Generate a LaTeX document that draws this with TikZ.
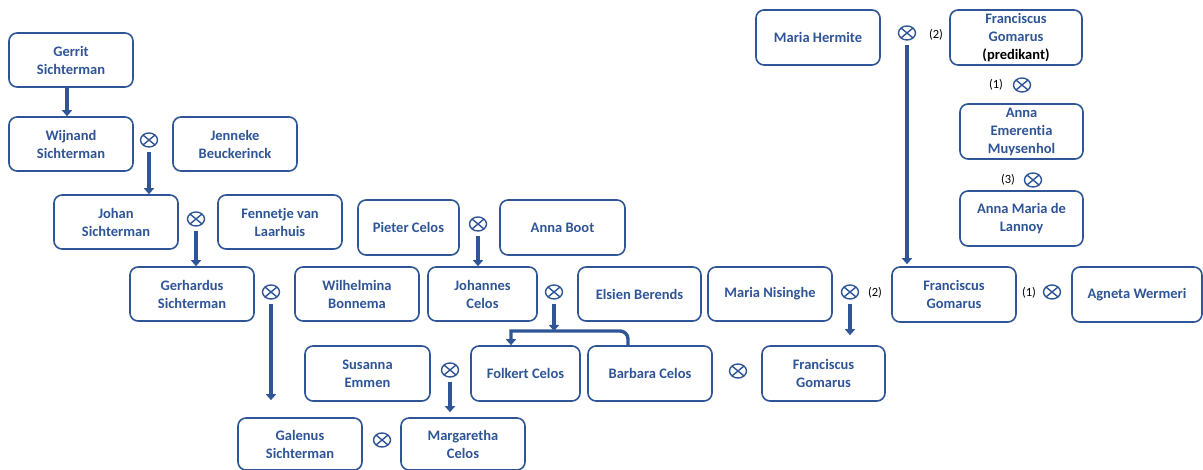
\documentclass[tikz,border=0pt]{standalone}
\usepackage{fontspec}
\setmainfont{Carlito}[Ligatures=NoCommon]
\usetikzlibrary{arrows.meta,shapes.geometric}
\definecolor{bl}{RGB}{47,85,151}
\tikzset{
  box/.style={draw=bl, line width=1.6pt, rounded corners=8pt, fill=white, align=center,
    text=bl, inner sep=0pt, font=\bfseries\fontsize{14.5}{18}\selectfont},
  mar/.style={ellipse, draw=bl, line width=1.4pt, minimum width=17pt, minimum height=14pt, inner sep=0pt,
    path picture={\draw[bl,line width=1.4pt] (path picture bounding box.north west)--(path picture bounding box.south east)
      (path picture bounding box.north east)--(path picture bounding box.south west);}},
  arr/.style={draw=bl, line width=3.4pt, -{Triangle[length=6pt,width=10pt]}},
  num/.style={font=\fontsize{12.5}{14}\selectfont, text=black, inner sep=0pt}
}
\begin{document}
\begin{tikzpicture}[x=1pt,y=-1pt]
\useasboundingbox (0,0) rectangle (1203,470);
% boxes
\node[box, minimum width=124pt, minimum height=54pt] (gerrit) at (71,60) {Gerrit\\Sichterman};
\node[box, minimum width=124pt, minimum height=54pt] (wijnand) at (71,144) {Wijnand\\Sichterman};
\node[box, minimum width=124pt, minimum height=54pt] (jenneke) at (235,144) {Jenneke\\Beuckerinck};
\node[box, minimum width=124pt, minimum height=54pt] (johan) at (116,222) {Johan\\Sichterman};
\node[box, minimum width=124pt, minimum height=54pt] (fennetje) at (280,222) {Fennetje van\\Laarhuis};
\node[box, minimum width=101pt, minimum height=55pt] (pieter) at (408.5,227.5) {Pieter Celos};
\node[box, minimum width=125pt, minimum height=55pt] (annaboot) at (562.5,227.5) {Anna Boot};
\node[box, minimum width=124pt, minimum height=54pt] (gerhardus) at (192,294) {Gerhardus\\Sichterman};
\node[box, minimum width=124pt, minimum height=54pt] (wilhelmina) at (357,294) {Wilhelmina\\Bonnema};
\node[box, minimum width=109pt, minimum height=54pt] (johannes) at (482.5,294) {Johannes\\Celos};
\node[box, minimum width=123pt, minimum height=54pt] (elsien) at (639.5,294) {Elsien Berends};
\node[box, minimum width=124pt, minimum height=54pt] (nisinghe) at (770,294) {Maria Nisinghe};
\node[box, minimum width=124pt, minimum height=55pt] (fgmid) at (954,294.5) {Franciscus\\Gomarus};
\node[box, minimum width=130pt, minimum height=55pt] (agneta) at (1137,294.5) {Agneta Wermeri};
\node[box, minimum width=124pt, minimum height=55pt] (hermite) at (818,37.5) {Maria Hermite};
\node[box, minimum width=132pt, minimum height=55pt] (fgpred) at (1016,37.5) {Franciscus\\Gomarus\\\textcolor{black}{(predikant)}};
\node[box, minimum width=123pt, minimum height=55pt] (emerentia) at (1021.5,131.5) {Anna\\Emerentia\\Muysenhol};
\node[box, minimum width=123pt, minimum height=55pt] (lannoy) at (1021.5,218.5) {Anna Maria de\\Lannoy};
\node[box, minimum width=125pt, minimum height=55pt] (susanna) at (367.5,373.5) {Susanna\\Emmen};
\node[box, minimum width=109pt, minimum height=55pt] (folkert) at (525.5,373.5) {Folkert Celos};
\node[box, minimum width=124pt, minimum height=55pt] (barbara) at (650,373.5) {Barbara Celos};
\node[box, minimum width=123pt, minimum height=55pt] (fgbot) at (823.5,373.5) {Franciscus\\Gomarus};
\node[box, minimum width=124pt, minimum height=52pt] (galenus) at (300,444) {Galenus\\Sichterman};
\node[box, minimum width=124pt, minimum height=52pt] (margaretha) at (463,444) {Margaretha\\Celos};
% marriage symbols
\node[mar] (m1) at (149,140) {};
\node[mar] (m2) at (196,219) {};
\node[mar] (m3) at (478,224) {};
\node[mar] (m4) at (271,292) {};
\node[mar] (m5) at (554,292) {};
\node[mar] (m6) at (850,292) {};
\node[mar] (m7) at (907,33) {};
\node[mar] (m8) at (1022,85) {};
\node[mar] (m9) at (1033,180) {};
\node[mar] (m10) at (1052,292) {};
\node[mar] (m11) at (450,370) {};
\node[mar] (m12) at (738,371) {};
\node[mar] (m13) at (382,440) {};
% numbers
\node[num] (n1) at (875,293) {(2)};
\node[num] (n2) at (1029,293) {(1)};
\node[num] (n3) at (936,35) {(2)};
\node[num] (n4) at (996,85) {(1)};
\node[num] (n5) at (1008,180) {(3)};
% connectors
\draw[arr] ([xshift=-4pt]gerrit.south) -- ([xshift=-4pt]wijnand.north);
\draw[arr, shorten <=4pt] (m1.south) -- (m1.south |- johan.north);
\draw[arr, shorten <=4pt] (m2.south) -- (m2.south |- gerhardus.north);
\draw[arr, shorten <=4pt] (m3.south) -- (m3.south |- johannes.north);
\draw[arr, shorten <=4pt, shorten >=17pt] (m4.south) -- (m4.south |- galenus.north);
\draw[arr, shorten <=4pt, shorten >=10pt] (m6.south) -- (m6.south |- fgbot.north);
\draw[arr, shorten <=4pt, shorten >=2pt] (m7.south) -- (m7.south |- fgmid.north);
\draw[arr, shorten <=4pt, shorten >=5pt] (m11.south) -- (m11.south |- margaretha.north);
\coordinate (j) at (554,331);
\draw[arr, shorten <=4pt] (m5.south) -- (j);
\draw[arr] ([xshift=-22pt]barbara.north) [rounded corners=8pt] |- (j) [sharp corners] -| ([xshift=-14.5pt]folkert.north);
\end{tikzpicture}
\end{document}
